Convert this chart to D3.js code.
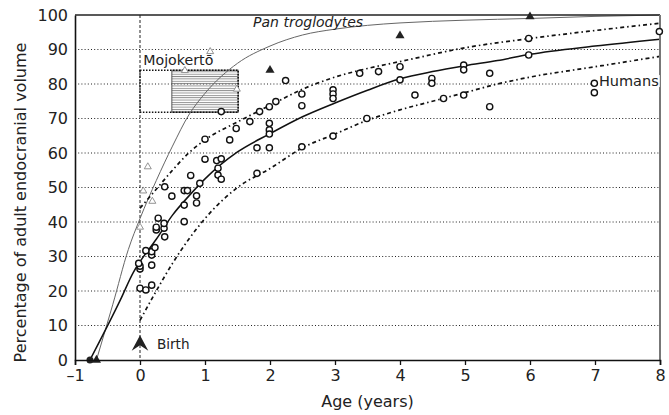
<!DOCTYPE html>
<html>
<head>
<meta charset="utf-8">
<script src="https://cdn.jsdelivr.net/npm/d3@7"></script>
<style>
  body { margin: 0; background: #fff; }
  svg text { font-family: "DejaVu Sans", sans-serif; fill: #222; }
</style>
</head>
<body>
<div id="chart"></div>
<script>
// axis ticks
const xTicks = [-1, 0, 1, 2, 3, 4, 5, 6, 7, 8];
const yTicks = [0, 10, 20, 30, 40, 50, 60, 70, 80, 90, 100];
const gridValues = [10, 20, 30, 40, 50, 60, 70, 80, 90];

// human individuals [age, % adult volume]
const humanPoints = [
  [0, 20.8], [0.09, 20.3], [0.18, 21.7], [0, 26.4], [0, 27.2], [-0.02, 28],
  [0.18, 27.5], [0.18, 30.4], [0.18, 31.4], [0.09, 31.7], [0.23, 32.6],
  [0.38, 35.7], [0.25, 37.7], [0.25, 38.5], [0.37, 38.2], [0.37, 39.6],
  [0.68, 40.1], [0.28, 41.1], [0.68, 44.9], [0.87, 45.5], [0.87, 47.6],
  [0.49, 47.5], [0.68, 49.1], [0.73, 49.1], [0.38, 50.2], [0.92, 51.2],
  [0.78, 53.5], [1.0, 58.2], [1.0, 64], [1.2, 55.6], [1.2, 53.6], [1.25, 52.4],
  [1.18, 57.8], [1.25, 58.3], [1.38, 63.8], [1.48, 67.1], [1.69, 69.1],
  [1.8, 61.5], [1.8, 54.1], [1.84, 72], [1.99, 73.4], [2.09, 74.9],
  [1.99, 68.6], [1.99, 66.7], [1.99, 65.5], [1.99, 61.5], [1.25, 72],
  [2.24, 81], [2.49, 77.1], [2.49, 73.7], [2.49, 61.8], [2.97, 78.3],
  [2.97, 77.1], [2.97, 75.8], [2.97, 64.9], [3.38, 83.1], [3.67, 83.6],
  [3.49, 70], [4.0, 85], [4.0, 81.2], [4.23, 76.8], [4.49, 81.6], [4.49, 80.2],
  [4.67, 75.8], [4.98, 85.5], [4.98, 84.1], [4.98, 76.8], [5.38, 83.1],
  [5.38, 73.4], [5.98, 93.2], [5.98, 88.4], [6.99, 80.2], [6.99, 77.5],
  [7.99, 95.2]
];

// human mean curve and its limits
const humanMean = [
  [-0.77, 0], [-0.3, 17.5], [-0.1, 25.5], [0, 28.5], [0.25, 35], [0.5, 42],
  [0.75, 47.5], [1, 52.5], [1.5, 60.3], [2, 65.6], [2.5, 70.5], [3, 74.5],
  [3.5, 78.2], [4, 81.5], [4.5, 83.6], [5, 85.3], [5.5, 86.8], [6, 88.6],
  [7, 91], [8, 93]
];
const humanUpper = [
  [0, 44], [0.25, 49.5], [0.5, 55], [0.75, 60], [1, 63.8], [1.5, 69],
  [2, 73.8], [2.5, 78.5], [3, 82], [3.5, 84.5], [4, 86.5], [5, 90.5],
  [6, 93.2], [7, 95.5], [8, 97.6]
];
const humanLower = [
  [0, 11.5], [0.25, 20], [0.5, 28], [0.75, 35], [1, 41], [1.5, 50],
  [2, 55.5], [2.5, 61.5], [3, 65.5], [3.5, 69.5], [4, 72.5], [4.5, 75],
  [5, 77.5], [5.5, 80], [6, 82], [7, 85], [8, 88]
];
const humanBirthDot = [[-0.77, 0]];

// chimpanzee curve and points
const panCurve = [
  [-0.67, 0], [-0.42, 16], [-0.18, 32], [0, 41], [0.25, 52], [0.5, 62],
  [0.75, 71], [1, 77.3], [1.5, 86], [2, 91], [2.5, 94.2], [3, 95.9],
  [3.5, 97], [4, 97.7], [5, 98.5], [6, 99], [7, 99.6], [8, 100]
];
const panPoints = [[-0.67, 0], [2, 84], [4, 94], [6, 99.5]];

// fossil (open grey triangles) and Mojokerto range
const fossilPoints = [
  [0, 38.5], [0.05, 49], [0.12, 56], [0.19, 46], [0.69, 83.9], [1.08, 89.4], [1.49, 78.5]
];
const mojoAgeRange = [0, 1.51];
const mojoHatchAgeRange = [0.49, 1.51];
const mojoVolRange = [71.8, 84];

const birthAge = 0;
const birthArrowTip = 7.2;

const labels = [
  { text: "Pan troglodytes", age: 1.74, vol: 96.6, italic: true, size: 14 },
  { text: "Humans", age: 7.06, vol: 79.4, size: 14.5, bg: true },
  { text: "Mojokertō", age: 0.05, vol: 85.5, size: 14.2 },
  { text: "Birth", age: 0.26, vol: 3.2, size: 13.6 }
];

const W = 669, H = 415;
const margin = { top: 15, right: 9, bottom: 55, left: 75 };
const width = W - margin.left - margin.right;
const height = H - margin.top - margin.bottom;

const svg = d3.select("#chart").append("svg")
  .attr("width", W).attr("height", H);

// hatch pattern for the Mojokerto box
svg.append("defs").append("pattern")
  .attr("id", "hatch")
  .attr("patternUnits", "userSpaceOnUse")
  .attr("width", 8).attr("height", 2.35)
  .append("line")
  .attr("x1", 0).attr("x2", 8).attr("y1", 0.5).attr("y2", 0.5)
  .attr("stroke", "#777").attr("stroke-width", 0.8);

const g = svg.append("g").attr("transform", `translate(${margin.left},${margin.top})`);

const x = d3.scaleLinear().domain([-1, 8]).range([0, width]);
const y = d3.scaleLinear().domain([0, 100]).range([height, 0]);

// grid
g.selectAll(".grid").data(gridValues).enter().append("line")
  .attr("x1", 0).attr("x2", width)
  .attr("y1", d => y(d)).attr("y2", d => y(d))
  .attr("stroke", "#222").attr("stroke-width", 1)
  .attr("stroke-dasharray", "1,2.2");

// birth line
g.append("line")
  .attr("x1", x(birthAge)).attr("x2", x(birthAge))
  .attr("y1", 0).attr("y2", height)
  .attr("stroke", "#222").attr("stroke-width", 1)
  .attr("stroke-dasharray", "3,2");

// Mojokerto box
g.append("rect")
  .attr("x", x(mojoHatchAgeRange[0])).attr("y", y(mojoVolRange[1]))
  .attr("width", x(mojoHatchAgeRange[1]) - x(mojoHatchAgeRange[0]))
  .attr("height", y(mojoVolRange[0]) - y(mojoVolRange[1]))
  .attr("fill", "url(#hatch)").attr("stroke", "#555").attr("stroke-width", 1);
g.append("rect")
  .attr("x", x(mojoAgeRange[0])).attr("y", y(mojoVolRange[1]))
  .attr("width", x(mojoAgeRange[1]) - x(mojoAgeRange[0]))
  .attr("height", y(mojoVolRange[0]) - y(mojoVolRange[1]))
  .attr("fill", "none").attr("stroke", "#111").attr("stroke-width", 1.6)
  .attr("stroke-dasharray", "1.5,1.5");

const line = d3.line()
  .x(d => x(d[0])).y(d => y(d[1]))
  .curve(d3.curveMonotoneX);

// chimp curve
g.append("path").datum(panCurve)
  .attr("fill", "none").attr("stroke", "#666").attr("stroke-width", 1)
  .attr("d", line);

// human curves
g.append("path").datum(humanUpper)
  .attr("fill", "none").attr("stroke", "#111").attr("stroke-width", 1.7)
  .attr("stroke-dasharray", "4,3,1.5,3")
  .attr("d", line);
g.append("path").datum(humanLower)
  .attr("fill", "none").attr("stroke", "#111").attr("stroke-width", 1.7)
  .attr("stroke-dasharray", "4,3,1.5,3")
  .attr("d", line);
g.append("path").datum(humanMean)
  .attr("fill", "none").attr("stroke", "#111").attr("stroke-width", 1.5)
  .attr("d", line);

// frame
g.append("line").attr("x1", 0).attr("x2", width).attr("y1", 0).attr("y2", 0)
  .attr("stroke", "#222").attr("stroke-width", 1.5);
g.append("line").attr("x1", width).attr("x2", width).attr("y1", 0).attr("y2", height)
  .attr("stroke", "#777").attr("stroke-width", 2);

// annotations (under the markers)
labels.forEach(l => {
  const t = g.append("text")
    .attr("x", x(l.age)).attr("y", y(l.vol))
    .style("font-size", l.size + "px")
    .style("font-style", l.italic ? "italic" : "normal")
    .text(l.text);
  if (l.bg) {
    const b = t.node().getBBox();
    g.insert("rect", () => t.node())
      .attr("x", b.x).attr("y", b.y + 2).attr("width", b.width + 1).attr("height", b.height - 4)
      .attr("fill", "#fff");
  }
});

// markers
g.selectAll(".fossil").data(fossilPoints).enter().append("path")
  .attr("transform", d => `translate(${x(d[0])},${y(d[1])})`)
  .attr("d", d3.symbol(d3.symbolTriangle).size(21))
  .attr("fill", "#fff").attr("stroke", "#888").attr("stroke-width", 0.9);

g.selectAll(".human").data(humanPoints).enter().append("circle")
  .attr("cx", d => x(d[0])).attr("cy", d => y(d[1])).attr("r", 3.1)
  .attr("fill", "#fff").attr("stroke", "#111").attr("stroke-width", 1.4);

g.selectAll(".pan").data(panPoints).enter().append("path")
  .attr("transform", d => `translate(${x(d[0])},${y(d[1])})`)
  .attr("d", d3.symbol(d3.symbolTriangle).size(36))
  .attr("fill", "#222");

g.selectAll(".hdot").data(humanBirthDot).enter().append("circle")
  .attr("cx", d => x(d[0])).attr("cy", d => y(d[1])).attr("r", 3.5)
  .attr("fill", "#222");

// birth arrow
g.append("path")
  .attr("transform", `translate(${x(birthAge)},${y(birthArrowTip)})`)
  .attr("d", "M0,0 L-8.3,15.5 L0,10 L8.3,15.5 Z")
  .attr("fill", "#222");

// axes
const xAxis = g.append("g").attr("transform", `translate(0,${height})`)
  .call(d3.axisBottom(x).tickValues(xTicks).tickSize(5).tickPadding(5)
    .tickFormat(d => d < 0 ? "\u2013" + Math.abs(d) : d));
xAxis.select(".domain").attr("stroke", "#111").attr("stroke-width", 1.6);
xAxis.selectAll(".tick line").attr("stroke", "#111").attr("stroke-width", 1.3);
xAxis.selectAll("text").style("font-size", "16px").style("font-family", "DejaVu Sans, sans-serif")
  .attr("fill", "#222");

const yAxis = g.append("g")
  .call(d3.axisLeft(y).tickValues(yTicks).tickSize(0).tickPadding(7));
yAxis.select(".domain").attr("stroke", "#111").attr("stroke-width", 1.6);
yAxis.selectAll("text").style("font-size", "16px").style("font-family", "DejaVu Sans, sans-serif")
  .attr("fill", "#222");

// axis titles
svg.append("text")
  .attr("x", margin.left + x(3.5)).attr("y", 407)
  .attr("text-anchor", "middle").style("font-size", "16px")
  .text("Age (years)");
svg.append("text")
  .attr("transform", `translate(26,${margin.top + height / 2 + 15}) rotate(-90)`)
  .attr("text-anchor", "middle").style("font-size", "16px")
  .text("Percentage of adult endocranial volume");
</script>
</body>
</html>
